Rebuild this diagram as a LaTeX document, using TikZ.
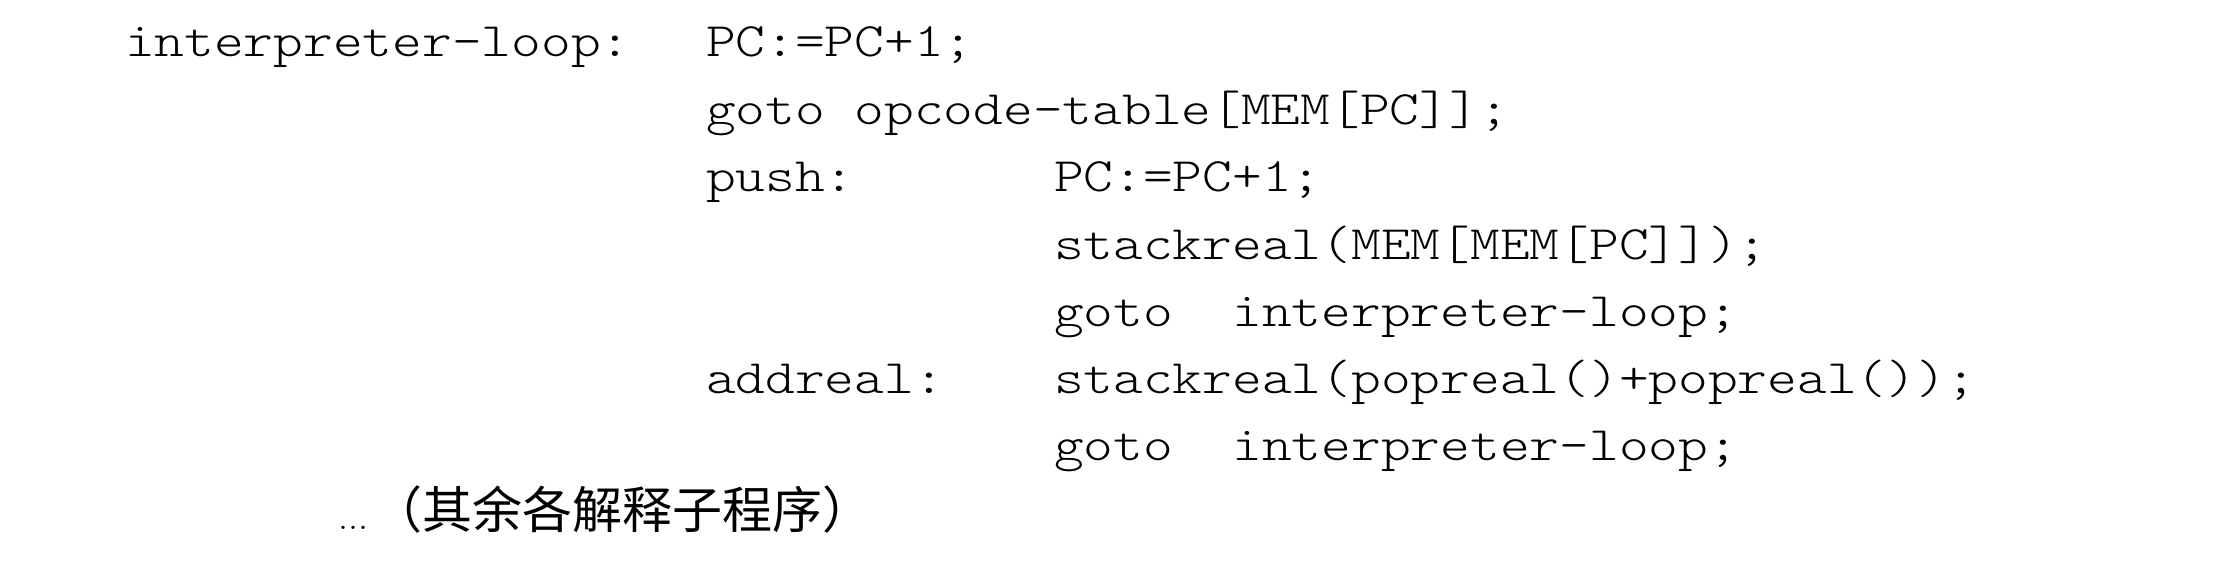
\documentclass[tikz,border=0pt]{standalone}
\usepackage{fontspec}
\newfontfamily\codefont[FakeStretch=1.18]{lmmonolt10-regular.otf}
\newfontfamily\cjk{Noto Sans CJK SC}
\begin{document}
\begin{tikzpicture}[x=1bp,y=1bp,
  code/.style={anchor=base west,inner sep=0pt,outer sep=0pt,
    font=\codefont\fontsize{48bp}{58bp}\selectfont},
  note/.style={anchor=base west,inner sep=0pt,outer sep=0pt,
    font=\cjk\fontsize{50bp}{60bp}\selectfont},
  dots/.style={anchor=base west,inner sep=0pt,outer sep=0pt,
    font=\fontsize{40bp}{48bp}\selectfont}]
\useasboundingbox (0,0) rectangle (2216,-572);
\fill[white] (0,0) rectangle (2216,-572);
% columns
\def\cA{125}\def\cB{706}\def\cC{1054}
\node[code] (l1a) at (\cA,-57) {interpreter-loop:};
\node[code] (l1b) at (\cB,-57) {PC:=PC+1;};
\node[code] (l2b) at (\cB,-124.5) {goto opcode-table[MEM[PC]];};
\node[code] (l3b) at (\cB,-191.8) {push:};
\node[code] (l3c) at (\cC,-191.8) {PC:=PC+1;};
\node[code] (l4c) at (\cC,-259) {stackreal(MEM[MEM[PC]]);};
\node[code] (l5c) at (\cC,-326) {goto\ \ interpreter-loop;};
\node[code] (l6b) at (\cB,-393) {addreal:};
\node[code] (l6c) at (\cC,-393) {stackreal(popreal()+popreal());};
\node[code] (l7c) at (\cC,-460.5) {goto\ \ interpreter-loop;};
\node[dots] (l8a) at (338,-529) {...};
\node[note] (l8b) at (372,-528) {（其余各解释子程序）};
\end{tikzpicture}
\end{document}
